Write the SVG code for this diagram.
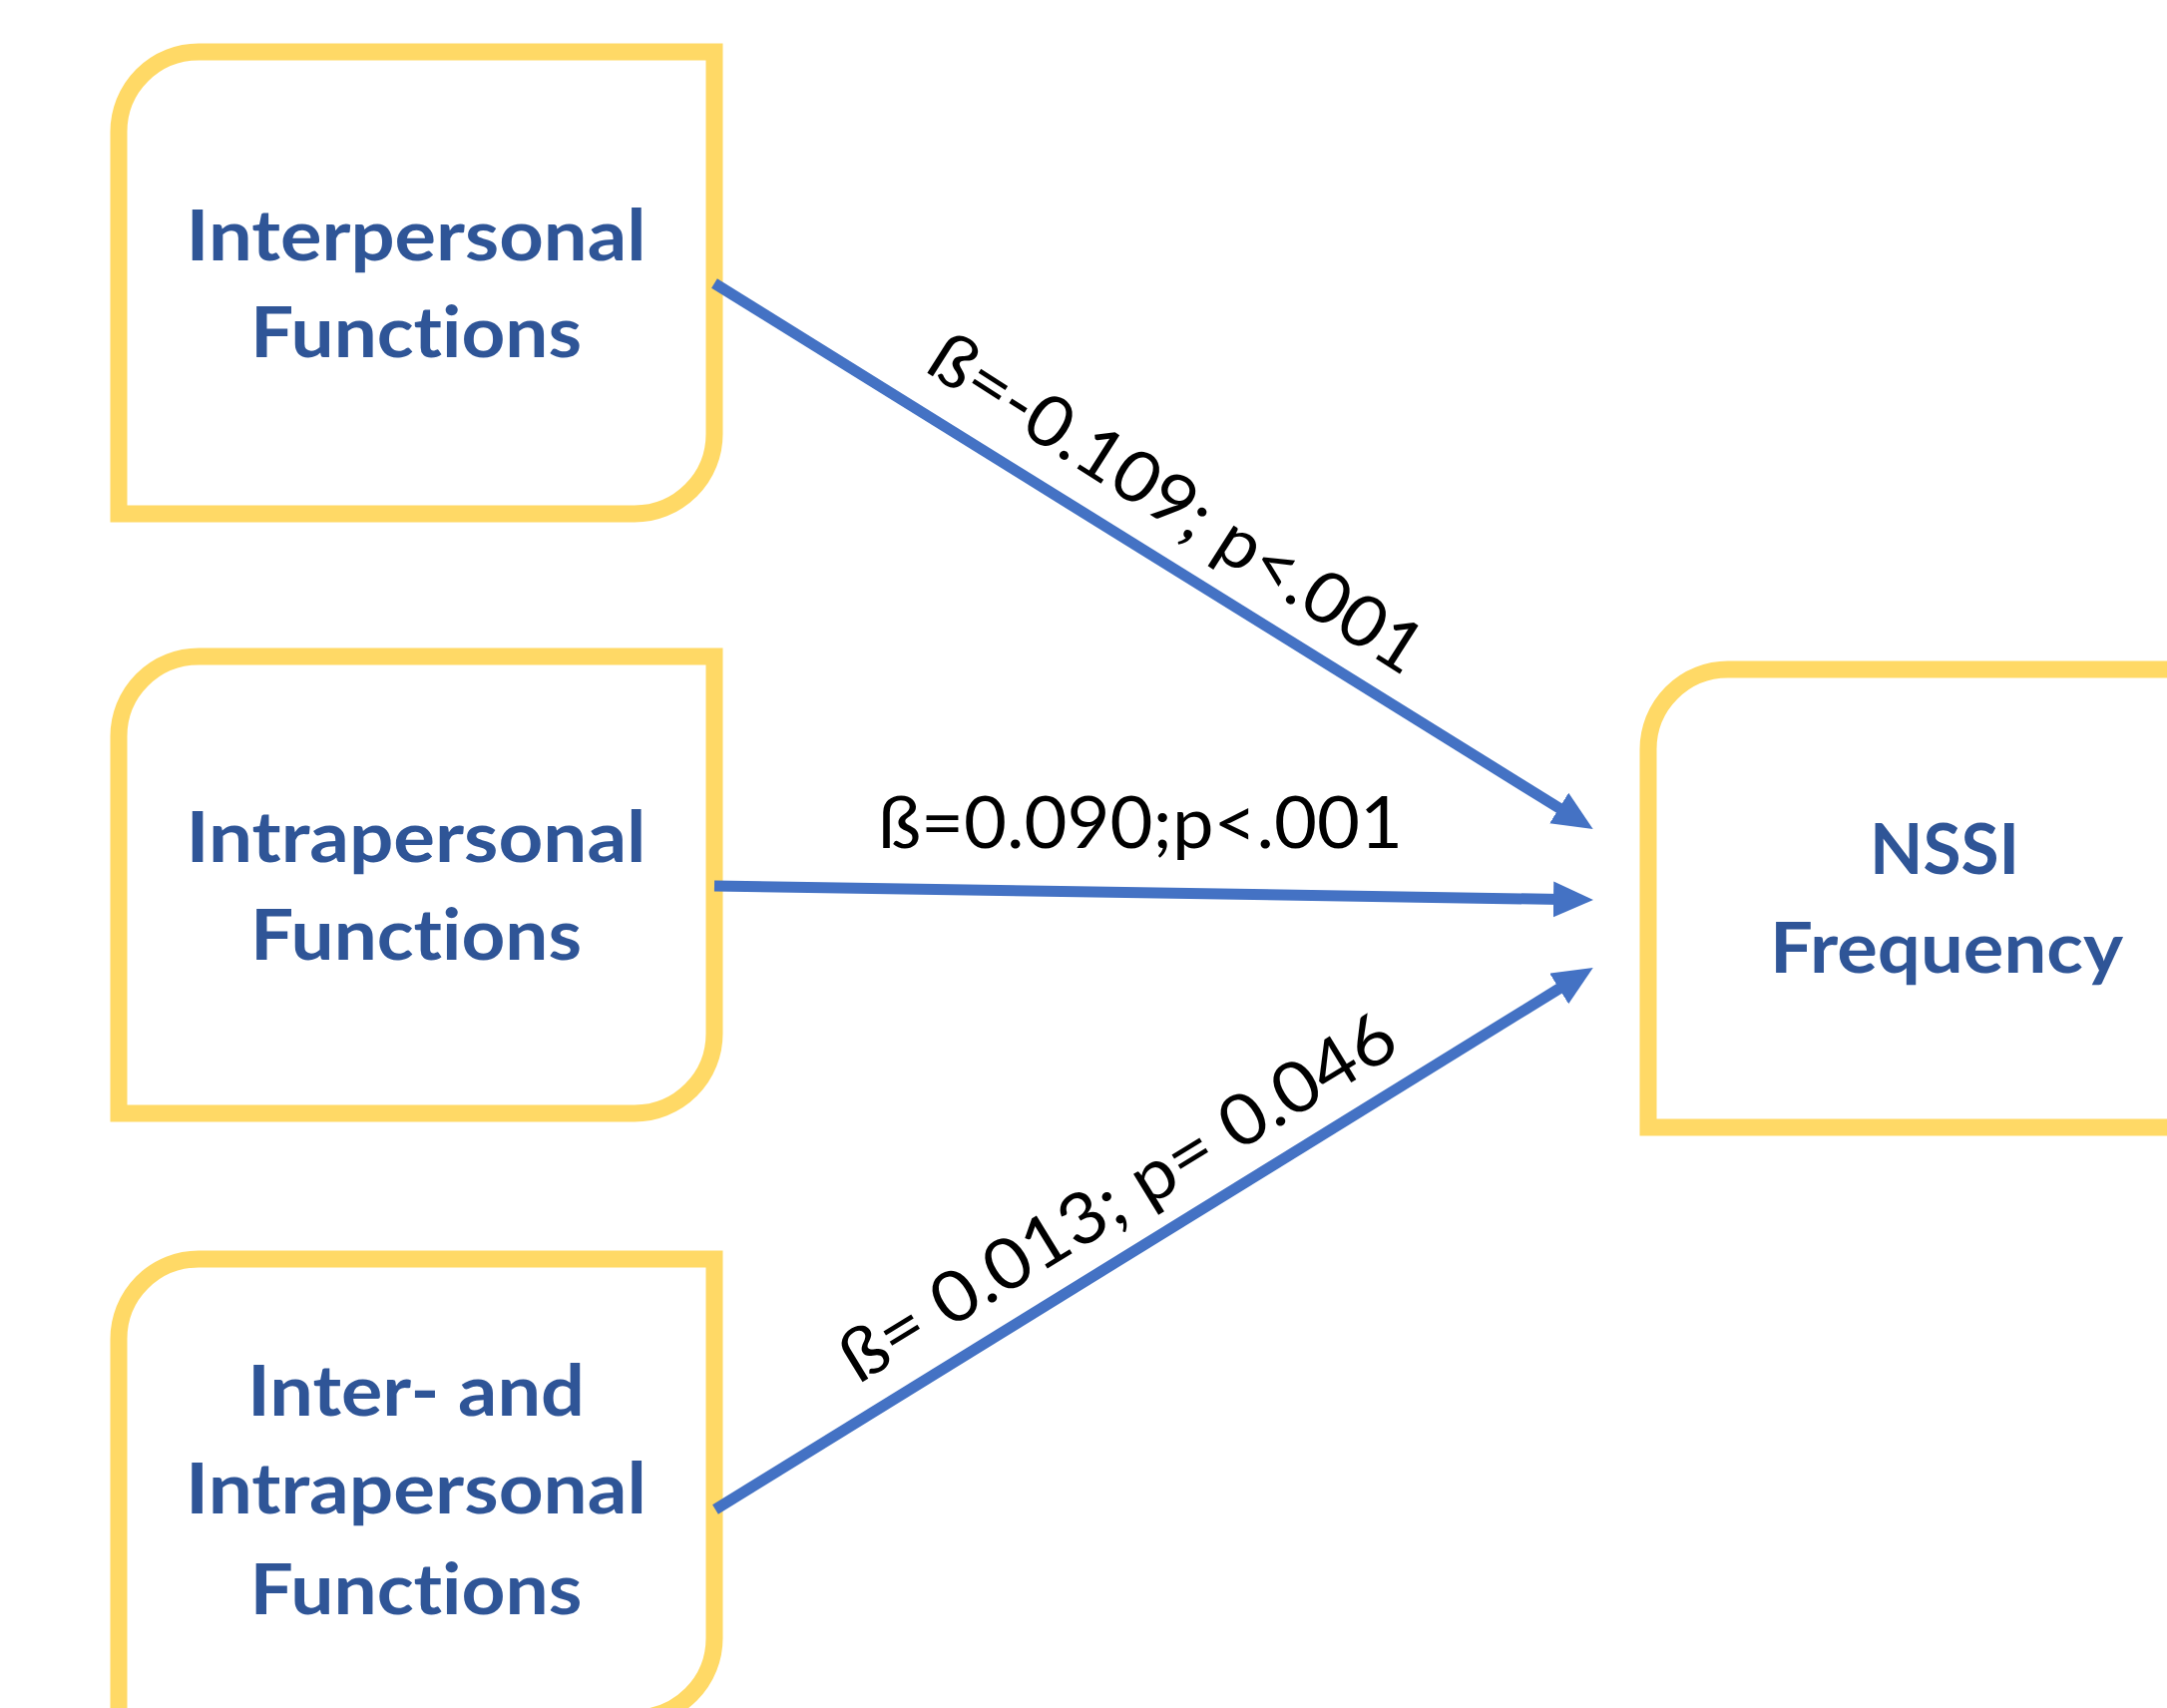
<svg xmlns="http://www.w3.org/2000/svg" width="2172" height="1712" viewBox="0 0 2172 1712">
  <style>
    .box { fill: #FFFFFF; stroke: #FFD966; stroke-width: 17; }
    .ntext { font-family: Lato, "Open Sans", "Liberation Sans", sans-serif; font-weight: 700; font-size: 71px; fill: #2F5597; text-anchor: middle; font-variant-ligatures: none; font-feature-settings: "liga" 0, "clig" 0; }
    .conn { stroke: #4472C4; stroke-width: 11; fill: none; marker-end: url(#arrow); }
    .lbl { font-family: Lato, "Open Sans", "Liberation Sans", sans-serif; font-weight: 400; font-size: 71px; fill: #000000; font-variant-ligatures: none; }
  </style>
  <defs>
    <marker id="arrow" markerUnits="userSpaceOnUse" markerWidth="42" markerHeight="38" refX="8" refY="18" orient="auto">
      <path d="M0,0 L40,18 L0,36 Z" fill="#4472C4"/>
    </marker>
  </defs>
  <rect width="2172" height="1712" fill="#FFFFFF"/>

  <g id="node-interpersonal">
    <path class="box" d="M119,515 L119,132 A80,80 0 0 1 199,52 L716,52 L716,435 A80,80 0 0 1 636,515 Z"/>
    <text class="ntext" x="417" y="261" textLength="461" lengthAdjust="spacingAndGlyphs">Interpersonal</text>
    <text class="ntext" x="417" y="358" textLength="332" lengthAdjust="spacingAndGlyphs">Functions</text>
  </g>

  <g id="node-intrapersonal">
    <path class="box" d="M119,1116 L119,738 A80,80 0 0 1 199,658 L716,658 L716,1036 A80,80 0 0 1 636,1116 Z"/>
    <text class="ntext" x="417" y="864" textLength="461" lengthAdjust="spacingAndGlyphs">Intrapersonal</text>
    <text class="ntext" x="417" y="962" textLength="332" lengthAdjust="spacingAndGlyphs">Functions</text>
  </g>

  <g id="node-inter-intra">
    <path class="box" d="M119,1722 L119,1342 A80,80 0 0 1 199,1262 L716,1262 L716,1642 A80,80 0 0 1 636,1722 Z"/>
    <text class="ntext" x="417" y="1419" textLength="338" lengthAdjust="spacingAndGlyphs">Inter- and</text>
    <text class="ntext" x="417" y="1517" textLength="462" lengthAdjust="spacingAndGlyphs">Intrapersonal</text>
    <text class="ntext" x="417" y="1618" textLength="333" lengthAdjust="spacingAndGlyphs">Functions</text>
  </g>

  <g id="node-nssi">
    <path class="box" d="M1652,1130 L1652,751 A80,80 0 0 1 1732,671 L2200,671 L2200,1130 Z"/>
    <text class="ntext" x="1949" y="876" textLength="150" lengthAdjust="spacingAndGlyphs">NSSI</text>
    <text class="ntext" x="1951" y="975" textLength="354" lengthAdjust="spacingAndGlyphs">Frequency</text>
  </g>

  <g id="connectors">
    <line class="conn" x1="716" y1="284" x2="1569.5" y2="814.2"/>
    <line class="conn" x1="716" y1="888" x2="1565" y2="901.5"/>
    <line class="conn" x1="717" y1="1513" x2="1569.5" y2="986.8"/>
    <text class="lbl" transform="translate(925,371) rotate(32.5)" x="0" y="0" textLength="572" lengthAdjust="spacingAndGlyphs">ß=-0.109; p&lt;.001</text>
    <text class="lbl" x="880" y="850" textLength="526" lengthAdjust="spacingAndGlyphs">ß=0.090;p&lt;.001</text>
    <text class="lbl" transform="translate(860,1388) rotate(-31.5)" x="0" y="0" textLength="640" lengthAdjust="spacingAndGlyphs">ß= 0.013; p= 0.046</text>
  </g>
</svg>
